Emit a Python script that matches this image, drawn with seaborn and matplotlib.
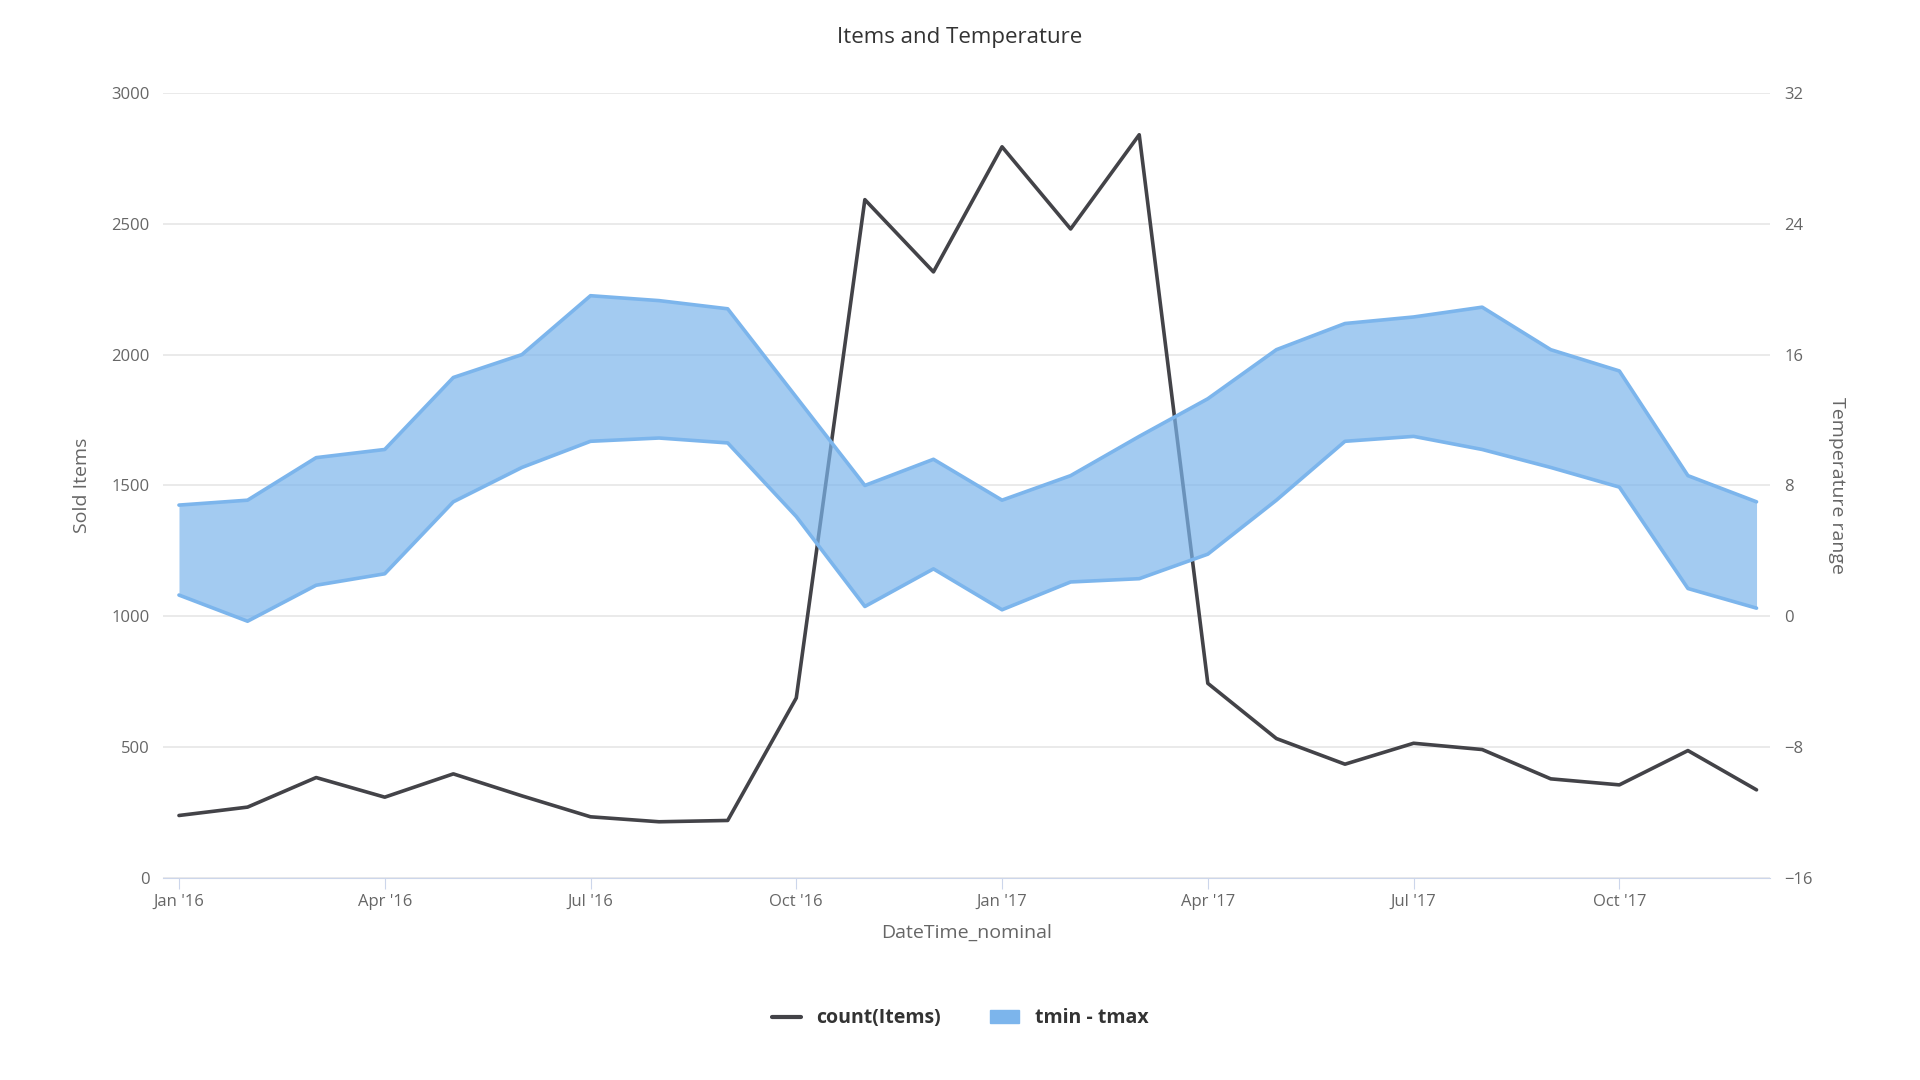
import matplotlib
matplotlib.use("Agg")
from matplotlib import pyplot as plt
import seaborn as sns
import pandas as pd

months = pd.date_range("2016-01-01", periods=24, freq="MS")
items = [239, 271, 384, 309, 398, 314, 234, 215, 220, 688, 2592, 2316,
         2794, 2480, 2840, 744, 533, 435, 515, 491, 379, 356, 487, 337]
tmax = [6.8, 7.1, 9.7, 10.2, 14.6, 16.0, 19.6, 19.3, 18.8, 13.4, 8.0, 9.6,
        7.1, 8.6, 11.0, 13.3, 16.3, 17.9, 18.3, 18.9, 16.3, 15.0, 8.6, 7.0]
tmin = [1.3, -0.3, 1.9, 2.6, 7.0, 9.1, 10.7, 10.9, 10.6, 6.1, 0.6, 2.9,
        0.4, 2.1, 2.3, 3.8, 7.1, 10.7, 11.0, 10.2, 9.1, 7.9, 1.7, 0.5]
tick_idx = [0, 3, 6, 9, 12, 15, 18, 21]
tick_labels = ["Jan '16", "Apr '16", "Jul '16", "Oct '16",
               "Jan '17", "Apr '17", "Jul '17", "Oct '17"]

df = pd.DataFrame({"idx": range(24), "items": items, "tmin": tmin, "tmax": tmax})

sns.set_style("white")
plt.rcParams['font.family'] = ['Open Sans', 'DejaVu Sans']
fig = plt.figure(figsize=(19.2, 10.8), dpi=100)
ax = fig.add_axes([0.085, 0.187, 0.837, 0.727])
ax2 = ax.twinx()
ax.set_zorder(ax2.get_zorder() - 1)
ax2.patch.set_visible(False)

sns.lineplot(data=df, x="idx", y="items", ax=ax, color="#434348", linewidth=2.6)
blue = "#7cb5ec"
ax2.fill_between(df["idx"], df["tmin"], df["tmax"], color=blue, alpha=0.7, linewidth=0)
sns.lineplot(data=df, x="idx", y="tmin", ax=ax2, color=blue, linewidth=2.6)
sns.lineplot(data=df, x="idx", y="tmax", ax=ax2, color=blue, linewidth=2.6)

ax.set_ylim(0, 3000)
ax.set_yticks(range(0, 3001, 500))
ax2.set_ylim(-16, 32)
ax2.set_yticks(range(-16, 33, 8))
ax.set_xlim(-0.23, 23.2)
ax.set_xticks(tick_idx)
ax.set_xticklabels(tick_labels)
ax.grid(axis="y", color="#e6e6e6", linewidth=1.2)
for a in (ax, ax2):
    for s in a.spines.values():
        s.set_visible(False)
    a.tick_params(axis="y", length=0, labelsize=12, labelcolor="#666666", pad=10)
ax.spines["bottom"].set_visible(True)
ax.spines["bottom"].set_color("#ccd6eb")
ax.tick_params(axis="x", length=8, color="#ccd6eb", labelsize=12, labelcolor="#666666", direction="out", bottom=True)

ax.set_xlabel("DateTime_nominal", fontsize=14, color="#666666", labelpad=10)
ax.set_ylabel("Sold Items", fontsize=14, color="#666666", labelpad=14)
ax2.set_ylabel("Temperature range", fontsize=14, color="#666666", rotation=270, labelpad=24)
fig.suptitle("Items and Temperature", y=0.975, fontsize=16, color="#333333")

from matplotlib.lines import Line2D
from matplotlib.patches import Patch
handles = [Line2D([], [], color="#434348", linewidth=3),
           Patch(color=blue)]
fig.legend(handles, ["count(Items)", "tmin - tmax"], loc="center", bbox_to_anchor=(0.5, 0.057),
           ncol=2, frameon=False, prop={"weight": "bold", "size": 14}, handlelength=1.5,
           columnspacing=2.5, labelcolor="#333333")

fig.savefig("out.png", dpi=100)
